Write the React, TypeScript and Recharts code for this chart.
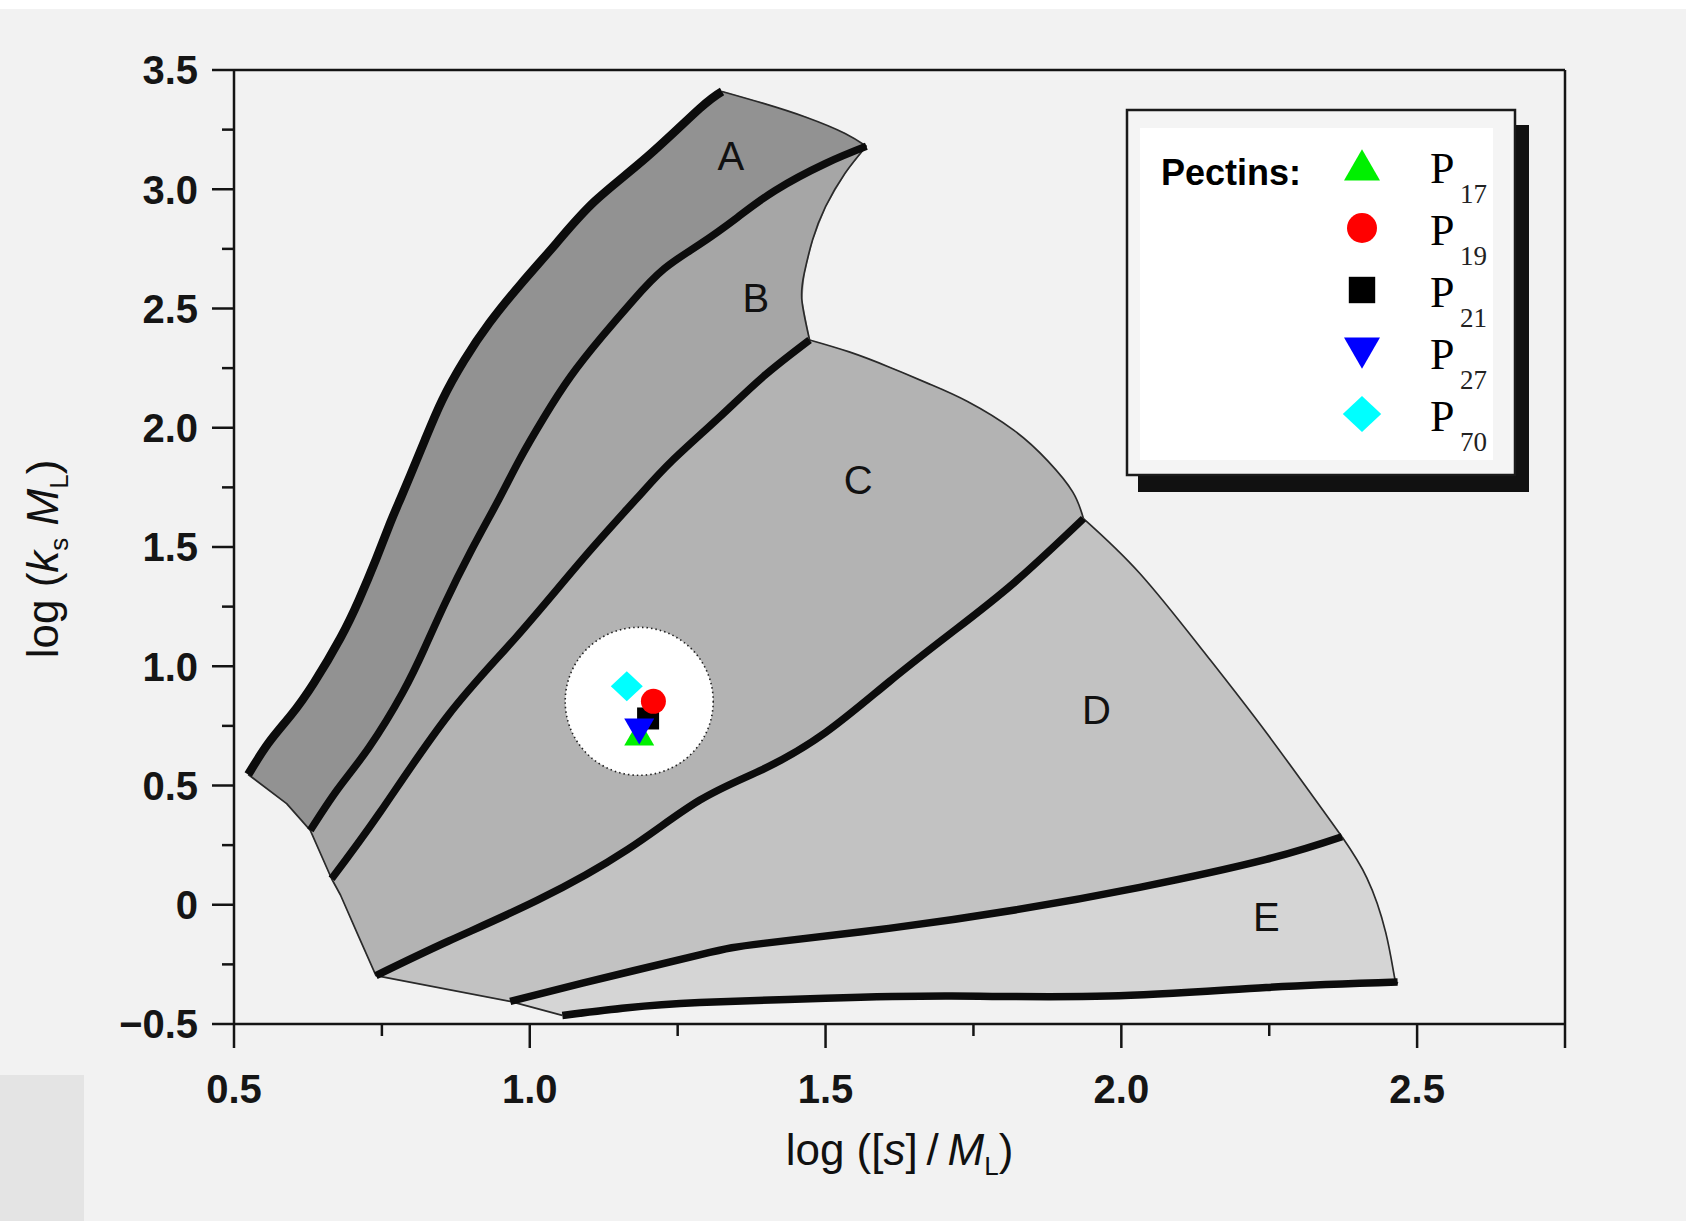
'use client';
import React from 'react';

import { ComposedChart, Scatter, XAxis, YAxis, ReferenceLine, Label } from 'recharts';

type Pair = [number, number];
type Pt = { x: number; y: number };

// boundary curves of the shape-parameter zones as [log([s]/ML), log(ks ML)]
const OUTER_EDGE: Pair[] = [
  [0.524, 0.546], [0.558, 0.677], [0.596, 0.794], [0.635, 0.93], [0.68, 1.119],
  [0.711, 1.277], [0.74, 1.448], [0.764, 1.6], [0.781, 1.7], [0.798, 1.8],
  [0.823, 1.95], [0.852, 2.116], [0.889, 2.282], [0.932, 2.44], [0.985, 2.603],
  [1.045, 2.774], [1.11, 2.95], [1.198, 3.135], [1.287, 3.338], [1.325, 3.41],
];
const A_TOP_EDGE: Pair[] = [[1.325, 3.41], [1.395, 3.36], [1.467, 3.302], [1.533, 3.234], [1.569, 3.18]];
const AB_LINE: Pair[] = [
  [1.569, 3.18], [1.5, 3.108], [1.415, 2.995], [1.351, 2.882], [1.287, 2.769],
  [1.227, 2.666], [1.175, 2.535], [1.122, 2.382], [1.069, 2.215], [1.024, 2.043],
  [0.982, 1.863], [0.948, 1.701], [0.9, 1.48], [0.856, 1.26], [0.822, 1.075],
  [0.785, 0.889], [0.728, 0.659], [0.675, 0.483], [0.629, 0.312],
];
const B_RIGHT_EDGE: Pair[] = [
  [1.569, 3.18], [1.533, 3.067], [1.5, 2.927], [1.478, 2.787], [1.464, 2.648], [1.46, 2.535], [1.473, 2.368],
];
const BC_LINE: Pair[] = [
  [1.473, 2.368], [1.395, 2.215], [1.32, 2.043], [1.24, 1.86], [1.18, 1.701],
  [1.089, 1.448], [0.976, 1.119], [0.862, 0.794], [0.747, 0.388], [0.665, 0.109],
];
const C_EDGE: Pair[] = [
  [1.473, 2.368], [1.54, 2.318], [1.607, 2.255], [1.676, 2.183], [1.74, 2.11],
  [1.818, 1.99], [1.876, 1.86], [1.918, 1.73], [1.936, 1.619],
];
const CD_LINE: Pair[] = [
  [1.936, 1.619], [1.82, 1.353], [1.713, 1.141], [1.607, 0.934], [1.5, 0.722], [1.395, 0.569],
  [1.287, 0.438], [1.165, 0.231], [1.013, 0.019], [0.862, -0.153], [0.74, -0.297],
];
const D_EDGE: Pair[] = [[1.936, 1.619], [2.031, 1.39], [2.138, 1.065], [2.245, 0.722], [2.373, 0.285]];
const DE_LINE: Pair[] = [
  [2.373, 0.285], [2.245, 0.19], [2.031, 0.073], [1.82, -0.022], [1.607, -0.099],
  [1.395, -0.162], [1.287, -0.21], [1.089, -0.329], [0.967, -0.405],
];
const E_EDGE: Pair[] = [[2.373, 0.285], [2.415, 0.113], [2.447, -0.117], [2.462, -0.306], [2.467, -0.324]];
const E_BASE_LINE: Pair[] = [
  [2.467, -0.324], [2.245, -0.347], [1.978, -0.383], [1.713, -0.383], [1.5, -0.392],
  [1.287, -0.41], [1.165, -0.432], [1.055, -0.464],
];
const LOWER_EDGE: Pair[] = [
  [0.524, 0.546], [0.589, 0.424], [0.629, 0.312], [0.665, 0.109], [0.68, 0.041],
  [0.711, -0.135], [0.74, -0.297], [0.967, -0.405], [1.055, -0.464],
];

const ZONE_NAMES = ['A', 'B', 'C', 'D', 'E'];
const ZONE_LABEL_X = [1.34, 1.382, 1.555, 1.958, 2.245];
const ZONE_LABEL_Y = [3.139, 2.544, 1.782, 0.817, -0.049];

// pectin samples
const PECTIN_IDS = ['17', '19', '21', '27', '70'];
const PECTIN_X = [1.185, 1.209, 1.2, 1.185, 1.164];
const PECTIN_Y = [0.718, 0.853, 0.781, 0.731, 0.916];
const HIGHLIGHT = [{ x: 1.185, y: 0.853 }];

const X_TICKS = [0.5, 0.75, 1, 1.25, 1.5, 1.75, 2, 2.25, 2.5, 2.75];
const X_TICK_LABELS = ['0.5', '', '1.0', '', '1.5', '', '2.0', '', '2.5', ''];
const Y_TICKS = [-0.5, -0.25, 0, 0.25, 0.5, 0.75, 1, 1.25, 1.5, 1.75, 2, 2.25, 2.5, 2.75, 3, 3.25, 3.5];
const Y_TICK_LABELS = ['\u22120.5', '', '0', '', '0.5', '', '1.0', '', '1.5', '', '2.0', '', '2.5', '', '3.0', '', '3.5'];

const toPts = (pairs: Pair[]): Pt[] => pairs.map(([x, y]) => ({ x, y }));
const rev = (pairs: Pair[]): Pair[] => [...pairs].reverse();
const closed = (pairs: Pair[]): Pt[] => toPts([...pairs, pairs[0]]);

const ZONES = [
  closed([...OUTER_EDGE, ...A_TOP_EDGE.slice(1), ...AB_LINE.slice(1), LOWER_EDGE[1]]),
  closed([...rev(AB_LINE), ...B_RIGHT_EDGE.slice(1), ...BC_LINE.slice(1)]),
  closed([...rev(BC_LINE), ...C_EDGE.slice(1), ...CD_LINE.slice(1), LOWER_EDGE[5], LOWER_EDGE[4]]),
  closed([...rev(CD_LINE), ...D_EDGE.slice(1), ...DE_LINE.slice(1)]),
  closed([...rev(DE_LINE), ...E_EDGE.slice(1), ...E_BASE_LINE.slice(1)]),
];
const DIVIDERS = [OUTER_EDGE, AB_LINE, BC_LINE, CD_LINE, DE_LINE, E_BASE_LINE].map(toPts);
const THIN_EDGES = [A_TOP_EDGE, B_RIGHT_EDGE, C_EDGE, D_EDGE, E_EDGE].map(toPts);
const LOWER = toPts(LOWER_EDGE);
const ZONE_LABELS = ZONE_NAMES.map((label, i) => ({ x: ZONE_LABEL_X[i], y: ZONE_LABEL_Y[i], label }));

const W = 1686;
const H = 1221;
const INK = '#141414';
const SANS = '"Liberation Sans", Arial, Helvetica, sans-serif';
const SERIF = '"Liberation Serif", "Times New Roman", serif';
const ZONE_FILLS = ['#929292', '#a6a6a6', '#b3b3b3', '#c2c2c2', '#d5d5d5'];

const MARKER_STYLE: Record<string, { kind: string; color: string }> = {
  '17': { kind: 'up', color: '#00f000' },
  '19': { kind: 'circle', color: '#ff0000' },
  '21': { kind: 'square', color: '#000000' },
  '27': { kind: 'down', color: '#0000ff' },
  '70': { kind: 'diamond', color: '#00ffff' },
};

function marker(kind: string, color: string, cx: number, cy: number, s: number) {
  switch (kind) {
    case 'up':
      return <polygon points={`${cx},${cy - 14 * s} ${cx + 15 * s},${cy + 12 * s} ${cx - 15 * s},${cy + 12 * s}`} fill={color} />;
    case 'down':
      return <polygon points={`${cx - 15 * s},${cy - 12 * s} ${cx + 15 * s},${cy - 12 * s} ${cx},${cy + 14 * s}`} fill={color} />;
    case 'square':
      return <rect x={cx - 11 * s} y={cy - 11 * s} width={22 * s} height={22 * s} fill={color} />;
    case 'diamond':
      return <polygon points={`${cx},${cy - 15 * s} ${cx + 16 * s},${cy} ${cx},${cy + 15 * s} ${cx - 16 * s},${cy}`} fill={color} />;
    default:
      return <circle cx={cx} cy={cy} r={12.5 * s} fill={color} />;
  }
}

const isMajor = (v: number) => Math.abs(v * 2 - Math.round(v * 2)) < 1e-6;

function XTick(props: any) {
  const { x, y, payload } = props;
  const v = payload.value;
  const label = X_TICK_LABELS[X_TICKS.indexOf(v)];
  const len = isMajor(v) || v === 2.75 ? 24 : 12;
  return (
    <g>
      <line x1={x} y1={y} x2={x} y2={y + len} stroke={INK} strokeWidth={2.5} />
      {label ? (
        <text x={x} y={y + 79} textAnchor="middle" fontFamily={SANS} fontWeight="bold" fontSize={40} fill="#151515">
          {label}
        </text>
      ) : null}
    </g>
  );
}

function YTick(props: any) {
  const { x, y, payload } = props;
  const v = payload.value;
  const label = Y_TICK_LABELS[Y_TICKS.indexOf(v)];
  const len = isMajor(v) ? 22 : 12;
  return (
    <g>
      <line x1={x} y1={y} x2={x - len} y2={y} stroke={INK} strokeWidth={2.5} />
      {label ? (
        <text x={x - 36} y={y} dy="0.36em" textAnchor="end" fontFamily={SANS} fontWeight="bold" fontSize={40} fill="#151515">
          {label}
        </text>
      ) : null}
    </g>
  );
}

function XTitle(props: any) {
  const vb = props.viewBox || { x: 234, y: 1024, width: 1331, height: 1 };
  return (
    <text x={vb.x + vb.width / 2} y={1165} textAnchor="middle" fontFamily={SANS} fontSize={44} fill="#111">
      log ([<tspan fontStyle="italic">s</tspan>]{'\u2009'}/{'\u2009'}
      <tspan fontStyle="italic">M</tspan>
      <tspan fontSize={26} dy={10}>L</tspan>
      <tspan dy={-10}>)</tspan>
    </text>
  );
}

function YTitle(props: any) {
  const vb = props.viewBox || { x: 233, y: 70, width: 1, height: 954 };
  const x = 58;
  const y = vb.y + vb.height / 2 + 12;
  return (
    <text x={x} y={y} transform={`rotate(-90, ${x}, ${y})`} textAnchor="middle" fontFamily={SANS} fontSize={44} fill="#111">
      log (<tspan fontStyle="italic">k</tspan>
      <tspan fontSize={26} dy={10}>s</tspan>
      <tspan dy={-10}> </tspan>
      <tspan fontStyle="italic">M</tspan>
      <tspan fontSize={26} dy={10}>L</tspan>
      <tspan dy={-10}>)</tspan>
    </text>
  );
}

function PectinLegend() {
  return (
    <div style={{ position: 'absolute', left: 1120, top: 100, width: 420, height: 400 }}>
      <svg width={420} height={400}>
        <rect x={395} y={25} width={14} height={367} fill="#111" />
        <rect x={18} y={375} width={391} height={17} fill="#111" />
        <rect x={7} y={10} width={388} height={365} fill="#f4f4f4" stroke="#1a1a1a" strokeWidth={2.5} />
        <rect x={20} y={28} width={353} height={332} fill="#ffffff" />
        <text x={41} y={85} fontFamily={SANS} fontWeight="bold" fontSize={36} fill="#000">
          Pectins:
        </text>
        {PECTIN_IDS.map((id, i) => {
          const base = 83 + i * 62;
          const st = MARKER_STYLE[id];
          return (
            <g key={id}>
              {marker(st.kind, st.color, 242, base - 17, 1.2)}
              <text x={310} y={base} fontFamily={SERIF} fontSize={44} fill="#000">
                P
              </text>
              <text x={340} y={base + 20} fontFamily={SERIF} fontSize={27} fill="#222">
                {id}
              </text>
            </g>
          );
        })}
      </svg>
    </div>
  );
}

const DRAW_ORDER = [0, 2, 1, 3, 4];

export default function App() {
  return (
    <div style={{ position: 'absolute', left: 0, top: 0, width: W, height: H, background: '#f2f2f2', overflow: 'hidden' }}>
      <div style={{ position: 'absolute', left: 0, top: 0, width: W, height: 9, background: '#ffffff' }} />
      <div style={{ position: 'absolute', left: 0, top: 1075, width: 84, height: 146, background: '#e4e4e4' }} />
      <ComposedChart width={W} height={H} margin={{ top: 70, right: 121, bottom: 196, left: 233 }}>
        <XAxis
          type="number"
          dataKey="x"
          domain={[0.5, 2.75]}
          allowDataOverflow
          ticks={X_TICKS}
          interval={0}
          height={1}
          tickSize={0}
          tickMargin={0}
          tickLine={false}
          axisLine={{ stroke: INK, strokeWidth: 2.5 }}
          tick={(p: any) => <XTick {...p} />}
        >
          <Label content={(p: any) => <XTitle {...p} />} />
        </XAxis>
        <YAxis
          type="number"
          dataKey="y"
          domain={[-0.5, 3.5]}
          allowDataOverflow
          ticks={Y_TICKS}
          interval={0}
          width={1}
          tickSize={0}
          tickMargin={0}
          tickLine={false}
          axisLine={{ stroke: INK, strokeWidth: 2.5 }}
          tick={(p: any) => <YTick {...p} />}
        >
          <Label content={(p: any) => <YTitle {...p} />} />
        </YAxis>
        <ReferenceLine y={3.5} stroke={INK} strokeWidth={2.5} />
        <ReferenceLine x={2.75} stroke={INK} strokeWidth={2.5} />

        {ZONES.map((pts, i) => (
          <Scatter
            key={`zone-${i}`}
            data={pts}
            fill={ZONE_FILLS[i]}
            line={{ fill: ZONE_FILLS[i], stroke: ZONE_FILLS[i], strokeWidth: 1, strokeLinejoin: 'round' }}
            lineJointType="linear"
            shape={() => <g />}
            legendType="none"
            isAnimationActive={false}
          />
        ))}
        {THIN_EDGES.map((pts, i) => (
          <Scatter
            key={`edge-${i}`}
            data={pts}
            line={{ fill: 'none', stroke: '#2a2a2a', strokeWidth: 1.7 }}
            lineJointType="natural"
            shape={() => <g />}
            legendType="none"
            isAnimationActive={false}
          />
        ))}
        <Scatter
          data={LOWER}
          line={{ fill: 'none', stroke: '#2a2a2a', strokeWidth: 1.7, strokeLinejoin: 'round' }}
          lineJointType="linear"
          shape={() => <g />}
          legendType="none"
          isAnimationActive={false}
        />
        {DIVIDERS.map((pts, i) => (
          <Scatter
            key={`div-${i}`}
            data={pts}
            line={{ fill: 'none', stroke: '#0c0c0c', strokeWidth: i === 0 ? 8.5 : 7.5, strokeLinejoin: 'round' }}
            lineJointType="natural"
            shape={() => <g />}
            legendType="none"
            isAnimationActive={false}
          />
        ))}
        <Scatter
          data={HIGHLIGHT}
          shape={(p: any) => (
            <circle cx={p.cx} cy={p.cy} r={74} fill="#ffffff" stroke="#222" strokeWidth={1.6} strokeDasharray="1.5 3" />
          )}
          legendType="none"
          isAnimationActive={false}
        />
        {DRAW_ORDER.map((i) => {
          const st = MARKER_STYLE[PECTIN_IDS[i]];
          return (
            <Scatter
              key={`p-${i}`}
              name={`P${PECTIN_IDS[i]}`}
              data={[{ x: PECTIN_X[i], y: PECTIN_Y[i] }]}
              fill={st.color}
              shape={(p: any) => marker(st.kind, st.color, p.cx, p.cy, 1)}
              isAnimationActive={false}
            />
          );
        })}
        <Scatter
          data={ZONE_LABELS}
          shape={(p: any) => (
            <text
              x={p.cx}
              y={p.cy}
              dy="0.36em"
              textAnchor="middle"
              fontFamily={'"Liberation Sans Narrow", ' + SANS}
              fontSize={40}
              fill="#111"
            >
              {p.payload?.label ?? p.label}
            </text>
          )}
          legendType="none"
          isAnimationActive={false}
        />
      </ComposedChart>
      <PectinLegend />
    </div>
  );
}
